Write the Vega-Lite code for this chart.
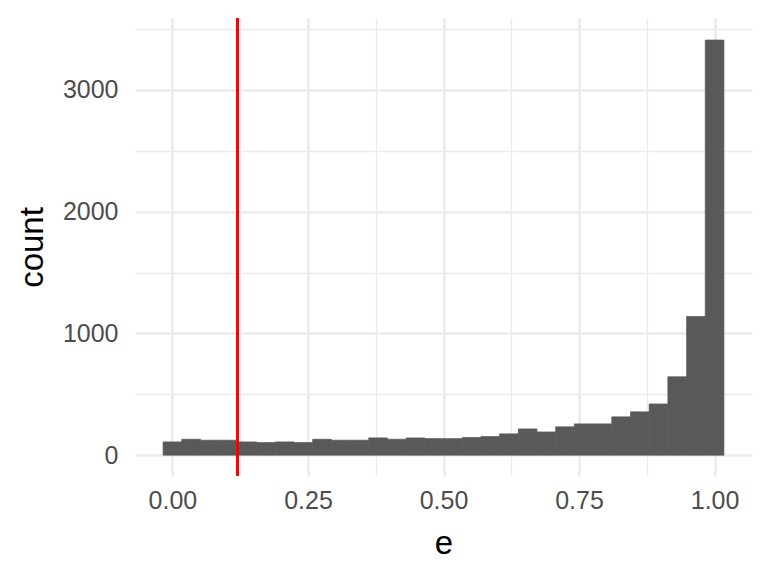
{
  "$schema": "https://vega.github.io/schema/vega-lite/v6.json",
  "autosize": {"type": "none"},
  "padding": {"left": 135, "top": 18, "right": 17, "bottom": 100},
  "width": 617,
  "height": 458,
  "background": "white",
  "config": {
    "view": {"stroke": null},
    "font": "Liberation Sans",
    "axis": {
      "domain": false,
      "ticks": false,
      "gridColor": "#EBEBEB",
      "labelFont": "Liberation Sans",
      "labelFontSize": 25,
      "labelColor": "#4D4D4D",
      "titleFont": "Liberation Sans",
      "titleFontSize": 33,
      "titleFontWeight": "normal",
      "titleColor": "#000000"
    }
  },
  "data": {
    "values": [
      {"start": -0.0172, "end": 0.0172, "count": 109},
      {"start": 0.0172, "end": 0.0517, "count": 131},
      {"start": 0.0517, "end": 0.0862, "count": 123},
      {"start": 0.0862, "end": 0.1207, "count": 123},
      {"start": 0.1207, "end": 0.1552, "count": 109},
      {"start": 0.1552, "end": 0.1897, "count": 104},
      {"start": 0.1897, "end": 0.2241, "count": 109},
      {"start": 0.2241, "end": 0.2586, "count": 104},
      {"start": 0.2586, "end": 0.2931, "count": 131},
      {"start": 0.2931, "end": 0.3276, "count": 123},
      {"start": 0.3276, "end": 0.3621, "count": 123},
      {"start": 0.3621, "end": 0.3966, "count": 142},
      {"start": 0.3966, "end": 0.4310, "count": 131},
      {"start": 0.4310, "end": 0.4655, "count": 142},
      {"start": 0.4655, "end": 0.5000, "count": 136},
      {"start": 0.5000, "end": 0.5345, "count": 136},
      {"start": 0.5345, "end": 0.5690, "count": 145},
      {"start": 0.5690, "end": 0.6034, "count": 153},
      {"start": 0.6034, "end": 0.6379, "count": 175},
      {"start": 0.6379, "end": 0.6724, "count": 216},
      {"start": 0.6724, "end": 0.7069, "count": 191},
      {"start": 0.7069, "end": 0.7414, "count": 233},
      {"start": 0.7414, "end": 0.7759, "count": 257},
      {"start": 0.7759, "end": 0.8103, "count": 257},
      {"start": 0.8103, "end": 0.8448, "count": 315},
      {"start": 0.8448, "end": 0.8793, "count": 356},
      {"start": 0.8793, "end": 0.9138, "count": 421},
      {"start": 0.9138, "end": 0.9483, "count": 644},
      {"start": 0.9483, "end": 0.9828, "count": 1139},
      {"start": 0.9828, "end": 1.0172, "count": 3410}
    ]
  },
  "layer": [
    {
      "mark": {"type": "bar", "color": "#595959", "stroke": "#595959", "strokeWidth": 0.7},
      "encoding": {
        "x": {
          "field": "start",
          "type": "quantitative",
          "scale": {"domain": [-0.069, 1.069], "nice": false, "zero": false},
          "axis": {
            "title": "e",
            "values": [0, 0.125, 0.25, 0.375, 0.5, 0.625, 0.75, 0.875, 1.0],
            "format": ".2f",
            "labelExpr": "abs(datum.value*4 - round(datum.value*4)) > 0.01 ? '' : datum.label",
            "gridWidth": {"condition": {"test": "abs(datum.value*4 - round(datum.value*4)) > 0.01", "value": 1.3}, "value": 2.6},
            "labelPadding": 12,
            "titleX": 308.5,
            "titleY": 77,
            "titleAlign": "center",
            "titleBaseline": "alphabetic"
          }
        },
        "x2": {"field": "end"},
        "y": {
          "field": "count",
          "type": "quantitative",
          "scale": {"domain": [-171, 3591], "nice": false, "zero": false},
          "axis": {
            "title": "count",
            "values": [0, 500, 1000, 1500, 2000, 2500, 3000, 3500],
            "format": "d",
            "labelExpr": "datum.value % 1000 === 0 ? datum.label : ''",
            "gridWidth": {"condition": {"test": "datum.value % 1000 !== 0", "value": 1.3}, "value": 2.6},
            "labelPadding": 17,
            "titleX": -93,
            "titleY": 229,
            "titleAngle": -90,
            "titleAlign": "center",
            "titleBaseline": "alphabetic"
          }
        },
        "y2": {"datum": 0}
      }
    },
    {
      "mark": {"type": "rule", "color": "#FF0000", "strokeWidth": 2.6},
      "encoding": {
        "x": {"datum": 0.12}
      }
    }
  ]
}
